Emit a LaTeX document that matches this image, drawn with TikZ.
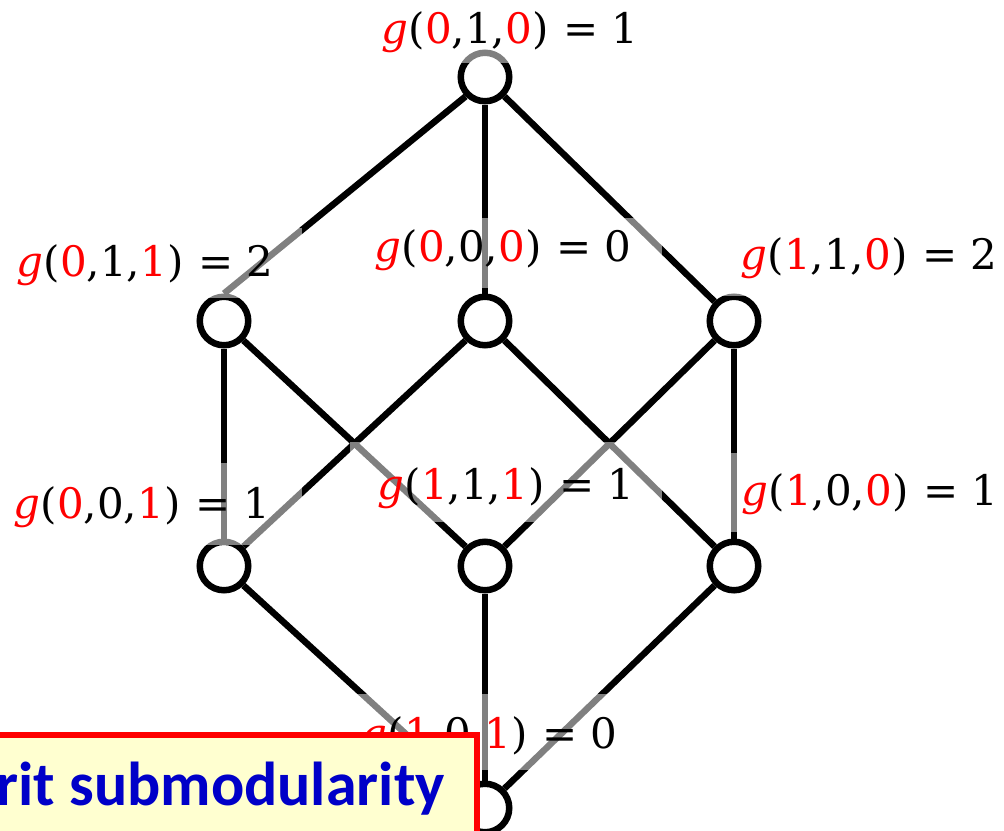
\documentclass[tikz,border=0pt]{standalone}
\usepackage{fontspec}
\newfontfamily\boxfont{Carlito}
\newfontfamily\labfont{DejaVu Serif}
\pgfdeclarelayer{bg}
\pgfsetlayers{bg,main}
\definecolor{boxyellow}{RGB}{255,255,208}
\definecolor{boxblue}{RGB}{0,0,200}
\newcommand{\rd}[1]{{\color{red}#1}}
\newcommand{\glab}[4]{\rd{\textit{g}}(\rd{#1},#2,\rd{#3})\hspace{0.36em}=\hspace{0.3em}#4}
\begin{document}
\begin{tikzpicture}[x=1pt,y=-1pt,
  vtx/.style={circle,draw=black,fill=white,line width=6.5pt,minimum size=48.5pt,inner sep=0pt},
  edge/.style={line width=6.5pt,black},
  lblbox/.style={fill=white,fill opacity=0.5},
  lbl/.style={font=\labfont\fontsize{42}{50}\selectfont,inner sep=0pt},
  notebox/.style={draw=red,line width=6pt,fill=boxyellow},
  notetext/.style={font=\boxfont\bfseries\fontsize{62}{72}\selectfont,text=boxblue,inner sep=0pt}]
\useasboundingbox (0,0) rectangle (1004,830);
\clip (0,0) rectangle (1004,830);
% vertices
\node[vtx] (t)  at (485,77)  {};
\node[vtx] (ml) at (224,321) {};
\node[vtx] (mm) at (485,321) {};
\node[vtx] (mr) at (734,321) {};
\node[vtx] (ll) at (224,566) {};
\node[vtx] (lm) at (485,566) {};
\node[vtx] (lr) at (734,566) {};
\node[vtx] (b)  at (485,808) {};
% edges
\begin{pgfonlayer}{bg}
\draw[edge] (t.south west) -- (ml.north);
\draw[edge] (t.south) -- (mm.north);
\draw[edge] (t.south east) -- (mr.north west);
\draw[edge] (ml.south) -- (ll.north);
\draw[edge] (ml.south east) -- (lm.north west);
\draw[edge] (mm.south west) -- (ll.north east);
\draw[edge] (mm.south east) -- (lr.north west);
\draw[edge] (mr.south west) -- (lm.north east);
\draw[edge] (mr.south) -- (lr.north);
\draw[edge] (ll.south east) -- (b.north west);
\draw[edge] (lm.south) -- (b.north);
\draw[edge] (lr.south west) -- (b.north east);
\end{pgfonlayer}
% label boxes (semi-transparent)
\path[lblbox] (355,-5) rectangle (667,63);
\path[lblbox] (-15,228) rectangle (302,298);
\path[lblbox] (348,218) rectangle (662,288);
\path[lblbox] (713,222) rectangle (1030,296);
\path[lblbox] (-15,463) rectangle (302,545);
\path[lblbox] (350,442) rectangle (662,522);
\path[lblbox] (713,453) rectangle (1030,532);
\path[lblbox] (340,694) rectangle (640,770);
% labels
\node[lbl] (lt)  at (510,32)  {\glab{0}{1}{0}{1}};
\node[lbl] (lml) at (145,265) {\glab{0}{1}{1}{2}};
\node[lbl] (lmm) at (503,250) {\glab{0}{0}{0}{0}};
\node[lbl] (lmr) at (869,258) {\glab{1}{1}{0}{2}};
\node[lbl] (lll) at (142,507) {\glab{0}{0}{1}{1}};
\node[lbl] (llm) at (506,488) {\glab{1}{1}{1}{1}};
\node[lbl] (llr) at (870,494) {\glab{1}{0}{0}{1}};
\node[lbl] (lb)  at (489,737) {\glab{1}{0}{1}{0}};
% note box
\path[notebox] (-20,735) rectangle (477,870);
\node[notetext,anchor=base east] (note) at (445,805) {rit submodularity};
\end{tikzpicture}
\end{document}
